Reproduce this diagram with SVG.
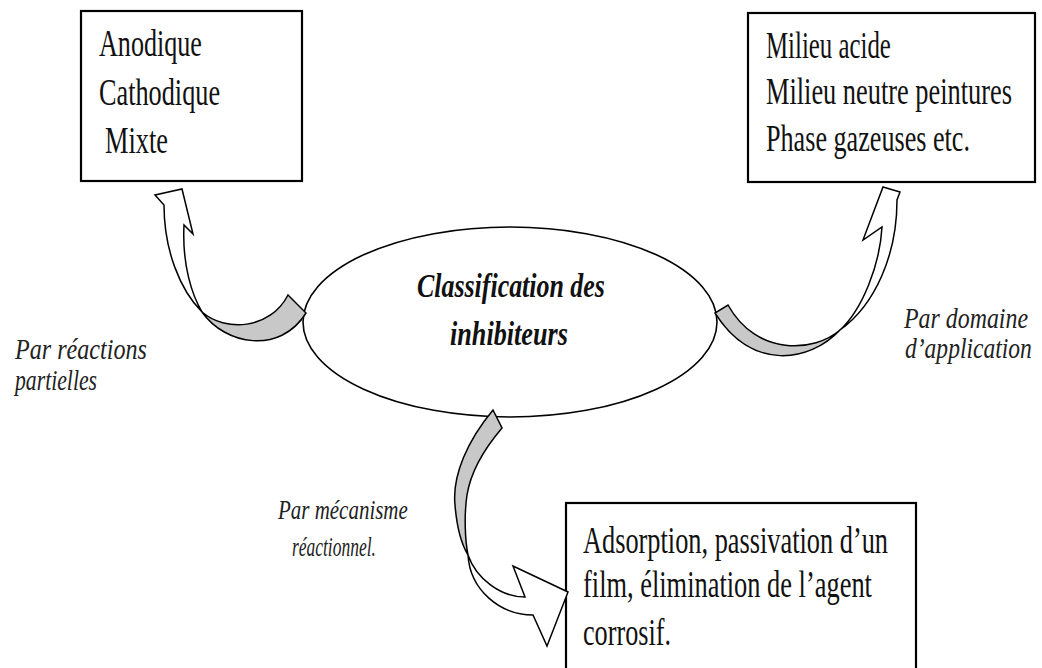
<svg xmlns="http://www.w3.org/2000/svg" width="1042" height="668" viewBox="0 0 1042 668">
<style>
.box{fill:#fff;stroke:#000;stroke-width:2.2}
.ell{fill:#fff;stroke:#000;stroke-width:1.6}
.t{font-family:"Liberation Serif","DejaVu Serif",serif;font-size:38px;fill:#111}
.ti{font-family:"Liberation Serif","DejaVu Serif",serif;font-size:33px;font-style:italic;font-weight:bold;fill:#111}
.lb{font-family:"Liberation Serif","DejaVu Serif",serif;font-size:30px;font-style:italic;fill:#222}
.lbs{font-family:"Liberation Serif","DejaVu Serif",serif;font-size:27px;font-style:italic;fill:#222}
.gr{fill:#c8c8c8;stroke:#000;stroke-width:1.5;stroke-linejoin:miter}
.wh{fill:#fff;stroke:#000;stroke-width:1.5;stroke-linejoin:miter}
</style>
<rect width="1042" height="668" fill="#fff"/>
<g id="node-center">
<ellipse class="ell" cx="510" cy="322" rx="207" ry="95"/>
<text class="ti" transform="translate(417,297) scale(0.786,1)">Classification des</text>
<text class="ti" transform="translate(450,345) scale(0.794,1)">inhibiteurs</text>
</g>
<g id="node-reactions">
<rect class="box" x="81" y="11" width="221" height="170"/>
<text class="t" transform="translate(99,56) scale(0.687,1)">Anodique</text>
<text class="t" transform="translate(99,105) scale(0.691,1)">Cathodique</text>
<text class="t" transform="translate(105,153) scale(0.694,1)">Mixte</text>
</g>
<g id="node-domaine">
<rect class="box" x="748" y="13" width="287" height="169"/>
<text class="t" transform="translate(766,58) scale(0.654,1)">Milieu acide</text>
<text class="t" transform="translate(766,104) scale(0.694,1)">Milieu neutre peintures</text>
<text class="t" transform="translate(766,151) scale(0.688,1)">Phase gazeuses etc.</text>
</g>
<g id="node-mecanisme">
<rect class="box" x="566" y="503" width="350" height="170"/>
<text class="t" transform="translate(583,553) scale(0.693,1)">Adsorption, passivation d’un</text>
<text class="t" transform="translate(583,597) scale(0.695,1)">film, élimination de l’agent</text>
<text class="t" transform="translate(583,645) scale(0.689,1)">corrosif.</text>
</g>
<g id="connectors">
<g id="arrow-left">
<path class="gr" d="M202,312 C225,332 270,330 288,295 L306,313 C280,355 225,345 202,312 Z"/>
<path class="wh" d="M164,205 C164,250 180,290 202,312 C192,295 182,265 184,225 L193,234 L182,189 L155,195 Z"/>
</g>
<g id="arrow-right">
<path class="gr" d="M840,330 C815,352 757,357 728,305 L715,313 C752,372 810,362 840,330 Z"/>
<path class="wh" d="M897,200 C897,255 875,305 840,330 C862,310 880,265 882,227 L863,240 L883,187 L900,192 Z"/>
</g>
<g id="arrow-bottom">
<path class="gr" d="M493,410 C468,440 452,475 455,505 C457,530 462,545 468,555 C465,540 464,515 467,495 C471,470 485,448 502,428 Z"/>
<path class="wh" d="M468,555 C476,578 500,597 525,597 L513,566 L568,592 L547,646 L533,615 C500,615 470,590 468,555 Z"/>
</g>
<g id="labels">
<text class="lb" transform="translate(15,359) scale(0.804,1)">Par réactions</text>
<text class="lb" transform="translate(15,390) scale(0.724,1)">partielles</text>
<text class="lb" transform="translate(904,328) scale(0.796,1)">Par domaine</text>
<text class="lb" transform="translate(905,358) scale(0.785,1)">d’application</text>
<text class="lbs" transform="translate(278,519) scale(0.777,1)">Par mécanisme</text>
<text class="lbs" transform="translate(292,556) scale(0.647,1)">réactionnel.</text>
</g>
</g>
</svg>
